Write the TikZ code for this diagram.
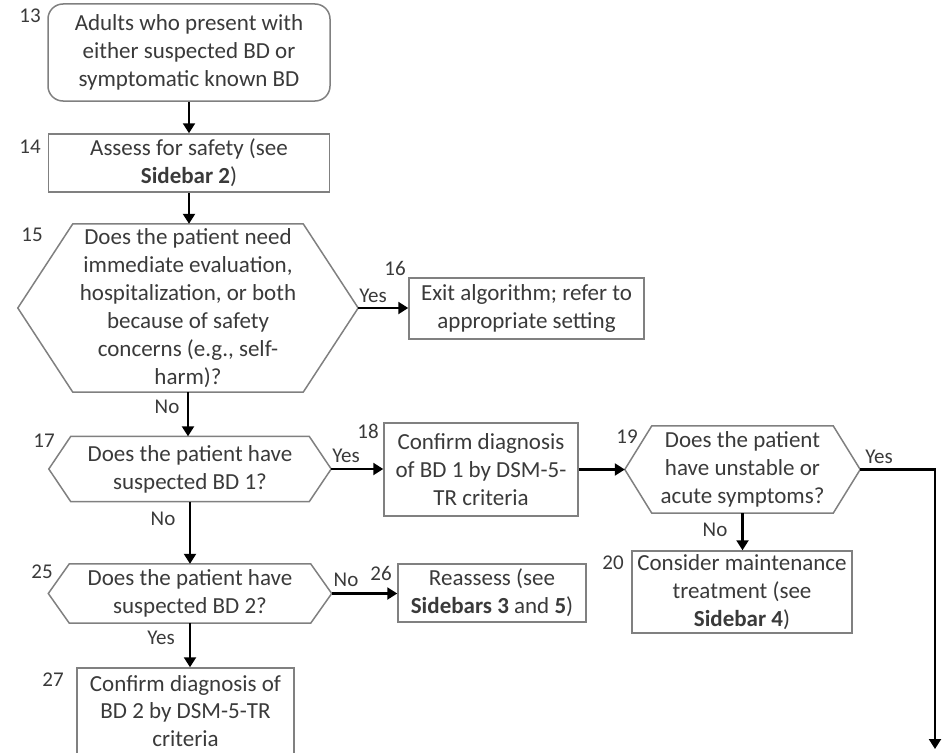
\documentclass[tikz,border=0pt]{standalone}
\usepackage{fontspec}
\setmainfont{Carlito}
\usetikzlibrary{arrows.meta}
\definecolor{boxc}{HTML}{808080}
\definecolor{txtc}{HTML}{3A3A3A}
\newcommand\myhex[2]{\draw[hexline] (#1.west) -- ([xshift=#2pt]#1.north west) -- ([xshift=-#2pt]#1.north east) -- (#1.east) -- ([xshift=-#2pt]#1.south east) -- ([xshift=#2pt]#1.south west) -- cycle;}
\begin{document}
\begin{tikzpicture}[x=1pt,y=-1pt,
  box/.style={draw=boxc, line width=1.5pt, fill=white, inner sep=0pt, align=center, text=txtc, font=\fontsize{23}{28}\selectfont},
  hexn/.style={inner sep=0pt, align=center, text=txtc, font=\fontsize{23}{28}\selectfont},
  hexline/.style={draw=boxc, line width=1.5pt, line join=miter},
  arr/.style={draw=black, line width=2.2pt, -{Triangle[length=10pt,width=12pt]}},
  lbl/.style={text=txtc, font=\fontsize{21}{24}\selectfont, inner sep=0pt},
]
\useasboundingbox (0,0) rectangle (947,752);
\clip (0,0) rectangle (947,752);

% nodes
\node[box, rounded corners=15pt, minimum width=282pt, minimum height=97pt] (n13) at (189,52.5)
  {Adults who present with\\either suspected BD or\\symptomatic known BD};
\node[box, minimum width=281pt, minimum height=58pt] (n14) at (189,163)
  {Assess for safety (see\\\textbf{Sidebar 2})};
\node[hexn, minimum width=340pt, minimum height=168pt] (h15) at (188,308)
  {Does the patient need\\immediate evaluation,\\hospitalization, or both\\because of safety\\concerns (e.g., self-\\harm)?};
\myhex{h15}{55}
\node[box, minimum width=235pt, minimum height=61pt] (n16) at (526.5,308.5)
  {Exit algorithm; refer to\\appropriate setting};
\node[hexn, minimum width=282pt, minimum height=65pt] (h17) at (190,469)
  {Does the patient have\\suspected BD 1?};
\myhex{h17}{22}
\node[box, minimum width=194pt, minimum height=93pt] (n18) at (481,469.5)
  {Confirm diagnosis\\of BD 1 by DSM-5-\\TR criteria};
\node[hexn, minimum width=235pt, minimum height=87pt] (h19) at (742.5,469.5)
  {Does the patient\\have unstable or\\acute symptoms?};
\myhex{h19}{27}
\node[box, minimum width=220pt, minimum height=82pt] (n20) at (742,592)
  {Consider maintenance\\treatment (see\\\textbf{Sidebar 4})};
\node[hexn, minimum width=283pt, minimum height=59pt] (h25) at (190,593.5)
  {Does the patient have\\suspected BD 2?};
\myhex{h25}{21}
\node[box, minimum width=217pt, minimum height=86pt, font=\fontsize{23}{27.5}\selectfont] (n27) at (185.5,711)
  {Confirm diagnosis of\\BD 2 by DSM-5-TR\\criteria};
\node[box, minimum width=188pt, minimum height=58pt] (n26) at (492,593)
  {Reassess (see\\\textbf{Sidebars 3} and \textbf{5})};
\coordinate (endpt) at (935,749);

% connectors
\draw[arr] (n13.south) -- (n13.south |- n14.north);
\draw[arr] (n14.south) -- (n14.south |- h15.north);
\draw[arr] (h15.east) -- (h15.east -| n16.west);
\draw[arr] (h15.south) -- (h15.south |- h17.north);
\draw[arr] (h17.east) -- (h17.east -| n18.west);
\draw[arr] (n18.east) -- (n18.east -| h19.west);
\draw[arr] (h19.east) -| (endpt);
\draw[arr] (h19.south) -- (h19.south |- n20.north);
\draw[arr] (h17.south) -- (h17.south |- h25.north);
\draw[arr] (h25.east) -- (h25.east -| n26.west);
\draw[arr] (h25.south) -- (h25.south |- n27.north);

% step numbers
\node[lbl] (l13) at (30,16) {13};
\node[lbl] (l14) at (30,147) {14};
\node[lbl] (l15) at (32,235) {15};
\node[lbl] (l16) at (395,268) {16};
\node[lbl] (l17) at (44,441) {17};
\node[lbl] (l18) at (368,431) {18};
\node[lbl] (l19) at (627,437) {19};
\node[lbl] (l20) at (613,563) {20};
\node[lbl] (l25) at (42,572) {25};
\node[lbl] (l26) at (381,573) {26};
\node[lbl] (l27) at (53,680) {27};

% branch labels
\node[lbl] (y15) at (373,296) {Yes};
\node[lbl] (n15) at (167,407) {No};
\node[lbl] (y17) at (346,456) {Yes};
\node[lbl] (n17) at (163,519) {No};
\node[lbl] (y19) at (879,457) {Yes};
\node[lbl] (n19) at (715,530) {No};
\node[lbl] (n25) at (346,580) {No};
\node[lbl] (y25) at (161,638) {Yes};
\end{tikzpicture}
\end{document}
